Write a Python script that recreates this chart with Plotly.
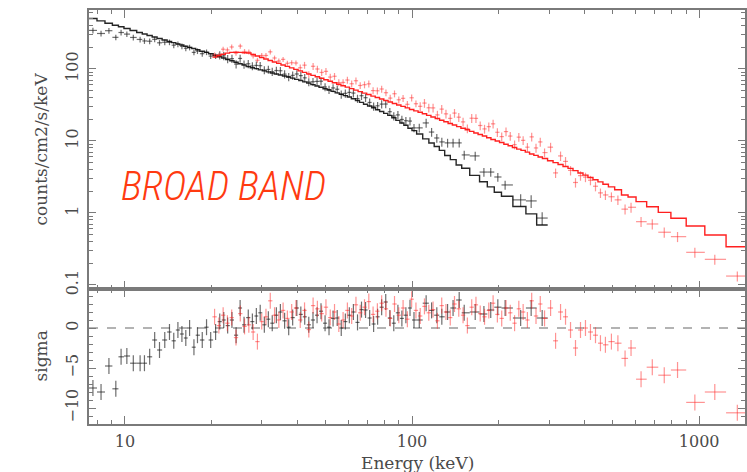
import numpy as np
import plotly.graph_objects as go

# ---------------- data ----------------
BLACK_E = [7.74, 8.26, 8.8, 9.3, 9.7, 10.16, 10.7, 11.3, 11.7, 12.2, 12.7, 13.2, 13.77, 14.3, 14.8,
           15.3, 15.8, 16.3, 16.8, 17.4, 17.9, 18.6, 19.25, 19.9, 20.7,
           21.4, 22.1, 22.8, 23.6, 24.4, 25.2, 26.0, 26.9, 27.8, 28.7, 29.6, 30.6, 31.6, 32.6, 33.7,
           34.8, 36.0, 37.2, 38.4, 39.7, 41.0, 42.3, 43.7, 45.2, 46.7, 48.2, 49.8, 51.4, 53.1, 54.9,
           56.7, 58.6, 60.5, 62.5, 64.6, 66.7, 68.9, 71.2, 73.5, 75.9, 78.4, 81.0, 83.7, 86.4, 89.3,
           92.2, 95.2, 98.4, 101.6,
           106, 112, 117, 122, 127, 133, 139, 146, 152, 166, 178, 188, 199, 211, 239, 260, 284]
BLACK_DATA = [343, 311, 340, 275, 321, 305, 274, 257, 245, 243, 258, 231, 235, 235, 214, 220, 207, 194,
              199, 170, 177, 163, 171, 151, 151,
              156, 152, 138, 139, 117, 140, 116, 118, 110, 112, 111, 96.7, 98.4, 91.7, 95.2, 94.5, 84.8,
              77.7, 81.5, 85.2, 80.9, 75.3, 65.9, 66.5, 67.2, 67.6, 56.2, 51.6, 54.5, 52.3, 44.5, 45.9,
              47.3, 46.3, 38.8, 42.5, 39.9, 34.3, 30.3, 30.8, 32.5, 32.6, 25.5, 22.2, 23.0, 19.9, 19.1,
              18.9, 15.2,
              15.2, 17.8, 13.3, 11.0, 9.7, 9.4, 9.4, 9.4, 6.4, 6.2, 3.7, 3.7, 3.16, 2.45, 1.52, 1.47, 0.85]
BLACK_MODEL = [502, 466, 432, 404, 385, 364, 343, 321, 306, 292, 278, 265, 253, 241, 232, 223, 215, 207,
               199, 192, 185, 176, 170, 163, 155,
               148, 142, 135, 130, 124, 118, 113, 108, 104, 101, 97.2, 94.1, 91.2, 88, 85.2, 82.3, 79.7,
               77.2, 74.5, 71.7, 69.2, 66.2, 63.5, 60.7, 58.0, 55.7, 53.2, 51.1, 48.8, 46.6, 44.5, 42.7,
               40.8, 38.5, 36.4, 34.4, 32.4, 30.6, 28.9, 27.1, 25.6, 24.2, 22.7, 21.0, 19.3, 17.8, 16.5,
               15.0, 13.9,
               12.5, 10.7, 9.38, 8.36, 7.4, 6.29, 5.5, 4.64, 4.18, 3.33, 2.71, 2.3, 1.94, 1.71, 1.23, 0.97, 0.68]
BLACK_SIGMA = [-7.5, -8, -4.75, -7.6, -3.6, -3.5, -4.4, -4.4, -4.4, -3.6, -1.5, -2.75, -1.5, -0.5, -1.6,
               -0.25, -0.75, -1.25, 0, -2.4, -0.9, -1.5, 0.1, -1.5, -0.5,
               0.8, 1.0, 0.3, 1.0, -0.9, 2.5, 0.4, 1.3, 0.8, 1.5, 1.9, 0.4, 1.1, 0.6, 1.6, 2.0, 0.9, 0.1,
               1.3, 2.5, 1.7, 1.4, 0.4, 1.0, 1.6, 2.1, 0.6, 0.1, 1.2, 1.25, 0.0, 0.8, 1.6, 2.0, 0.7, 2.3,
               2.25, 1.25, 0.5, 1.4, 2.6, 3.25, 1.25, 0.6, 1.9, 1.2, 1.6, 2.5, 1.0,
               1.0, 3.1, 2.2, 1.6, 1.4, 2.0, 2.5, 3.5, 1.9, 2.0, 1.75, 2.25, 2.6, 2.5, 1.25, 2.5, 1.25]
BLACK_FRAC_ERR = [0.09] * 25 + [0.13] * 49 + [0.14] * 14 + [0.2] * 3

RED_E = [20.53, 21.25, 21.99, 22.76, 23.55, 24.38, 25.23, 26.11, 27.02, 27.97, 28.95, 29.96, 31.0, 32.09,
         33.21, 34.37, 35.57, 36.81, 38.10, 39.43, 40.81, 42.24, 43.71, 45.24, 46.82, 48.46, 50.15, 51.91,
         53.72, 55.60, 57.54, 59.56, 61.64, 63.79, 66.02, 68.33, 70.72, 73.19, 75.75, 78.40, 81.14, 83.97,
         86.91, 89.95, 93.09, 96.35, 99.72, 103.2, 106.8, 110.5, 114.4, 118.4, 122.6, 126.9, 131.3, 135.9,
         140.6, 145.5, 150.6, 155.9, 161.4, 167.0, 172.8, 178.9, 185.1, 191.6, 198.3, 205.3, 212.5, 219.9,
         227.6, 235.5, 243.8, 252.3, 261.1, 270.3, 279.7, 289.5,
         303.8, 316.2, 329.1, 342.5, 356.5, 371.0, 386.2, 401.9, 418.3, 435.5, 453.2, 471.6, 494.9, 521.2,
         552.1, 579.2, 627.6, 686.8, 755.9, 840.9, 966.2, 1133.7, 1358.3]
RED_DATA = [157, 156, 188, 184, 202, 166, 208, 175, 172, 152, 132, 154, 154, 173, 142, 129, 136, 120, 122,
            121, 104, 113, 84, 109, 99.9, 89.5, 92.7, 77.2, 79.2, 64.7, 65.0, 70.2, 62.3, 68.6, 59.0, 60.5,
            62.1, 50.1, 49.8, 52.7, 46.8, 39.4, 45.3, 37.3, 39.1, 32.3, 39.8, 32.9, 30.3, 33.6, 28.9, 28.8,
            23.0, 27.7, 23.8, 20.6, 24.4, 21.4, 18.4, 14.9, 20.7, 20.6, 16.4, 14.7, 15.8, 17.3, 13.2, 11.5,
            13.5, 11.7, 8.9, 11.3, 10.2, 8.2, 11.4, 8.0, 9.7, 6.9,
            8.2, 3.6, 6.2, 5.2, 3.9, 2.65, 3.3, 3.15, 2.85, 2.35, 1.9, 1.78, 1.68, 1.52,
            1.13, 1.2, 0.757, 0.703, 0.54, 0.469, 0.284, 0.227, 0.133]
RED_MODEL = [146, 153, 160, 166, 170, 171, 170, 168,
             166.3, 158.6, 151.3, 144.3, 137.6, 131.2, 125.2, 119.4, 113.8, 108.5, 103.5, 98.7, 94.1, 89.8,
             85.6, 81.6, 77.9, 74.3, 70.8, 67.5, 64.4, 61.4, 58.6, 55.9, 53.3, 50.8, 48.4, 46.2, 44.1, 42.0,
             40.1, 38.2, 36.5, 34.8, 33.2, 31.6, 30.2, 28.8, 27.4, 26.2, 25.1, 23.9, 22.7, 21.5, 20.5, 19.4,
             18.5, 17.5, 16.7, 15.8, 15.0, 14.3, 13.6, 12.9, 12.3, 11.7, 11.1, 10.5, 10.0, 9.5, 9.0, 8.6,
             8.1, 7.7, 7.4, 7.0, 6.6, 6.3, 6.0, 5.7,
             5.31, 5.0, 4.72, 4.43, 4.16, 3.87, 3.59, 3.35, 3.11, 2.90, 2.70, 2.51, 2.30, 2.10,
             1.78, 1.67, 1.435, 1.22, 1.02, 0.845, 0.66, 0.495, 0.34]
RED_SIGMA = [1.4, 0.3, 1.6, 0.6, 1.3, -1.2, 1.8, 0.2, 0.4, -0.5, -1.7, 0.8, 1.4, 3.4, 1.6, 1.0, 2.2, 1.2,
             2.0, 2.5, 1.0, 2.2, -0.2, 2.8, 2.4, 1.8, 2.6, 1.3, 2.0, 0.5, 1.0, 2.2, 1.5, 2.9, 1.9, 2.6, 3.3,
             1.7, 2.1, 3.1, 2.4, 1.2, 3.0, 1.6, 2.5, 1.1, 3.6, 2.2, 1.5, 2.7, 1.9, 2.3, 0.9, 2.8, 2.0, 1.3,
             3.0, 2.4, 1.6, 0.3, 2.6, 2.9, 1.8, 1.4, 2.2, 3.1, 1.7, 1.2, 2.5, 1.9, 0.6, 2.4, 2.0, 1.0, 3.4,
             1.5, 3.0, 1.2,
             2.5, -1.6, 2.0, 1.4, -0.25, -2.5, -0.25, 0.0, -0.5, -0.9, -1.9, -2.1, -1.7, -1.9,
             -3.8, -2.5, -6.4, -4.9, -5.9, -5.25, -9.3, -8.0, -10.6]
RED_FRAC_ERR = [0.08] * 20 + [0.11] * 28 + [0.14] * 30 + [0.15] * 14 + [0.16] * 9

X_TICKS = [10, 100, 1000]
X_MINOR = [8, 9, 20, 30, 40, 50, 60, 70, 80, 90, 200, 300, 400, 500, 600, 700, 800, 900]
Y_TICKS = [0.1, 1, 10, 100]
Y_TICK_TEXT = ["0.1", "1", "10", "100"]
Y_MINOR = [0.2, 0.3, 0.4, 0.5, 0.6, 0.7, 0.8, 0.9, 2, 3, 4, 5, 6, 7, 8, 9,
           20, 30, 40, 50, 60, 70, 80, 90, 200, 300, 400, 500, 600]
SIG_TICKS = [-10, -5, 0]
SIG_TICK_TEXT = ["\u221210", "\u22125", "0"]

# ---------------- styling ----------------
AX = "#7a7a7a"
TXT = "#4a4a4a"
TICKFONT = dict(family="DejaVu Serif", size=16, color=TXT)
BLACK_PTS = "rgba(30,30,30,0.65)"
RED_PTS = "rgba(255,40,40,0.5)"
BLACK_LINE = "rgba(0,0,0,0.85)"
RED_LINE = "rgba(255,20,20,0.95)"


def bin_edges(e):
    e = np.asarray(e, dtype=float)
    mid = np.sqrt(e[:-1] * e[1:])
    lo = np.concatenate([[e[0] ** 2 / mid[0]], mid])
    hi = np.concatenate([mid, [e[-1] ** 2 / mid[-1]]])
    return lo, hi


fig = go.Figure()
HIDDEN = dict(size=1, opacity=0)


def add_spectrum(E, data, model, sigma, frac, pcol, lcol):
    E = np.asarray(E, float)
    data = np.asarray(data, float)
    lo, hi = bin_edges(E)
    ex = dict(type="data", symmetric=False, array=hi - E, arrayminus=E - lo,
              width=0, thickness=1.2, color=pcol)
    fig.add_trace(go.Scatter(
        x=E, y=data, mode="markers", marker=HIDDEN,
        error_x=ex,
        error_y=dict(type="data", array=data * np.asarray(frac), width=0, thickness=1.2, color=pcol),
        xaxis="x2", yaxis="y", showlegend=False, hoverinfo="skip"))
    fig.add_trace(go.Scatter(
        x=np.concatenate([lo, [hi[-1]]]), y=np.concatenate([model, [model[-1]]]),
        mode="lines", line=dict(color=lcol, width=1.4, shape="hv"),
        xaxis="x2", yaxis="y", showlegend=False, hoverinfo="skip"))
    fig.add_trace(go.Scatter(
        x=E, y=sigma, mode="markers", marker=HIDDEN,
        error_x=ex,
        error_y=dict(type="constant", value=1, width=0, thickness=1.2, color=pcol),
        xaxis="x", yaxis="y2", showlegend=False, hoverinfo="skip"))


add_spectrum(BLACK_E, BLACK_DATA, BLACK_MODEL, BLACK_SIGMA, BLACK_FRAC_ERR, BLACK_PTS, BLACK_LINE)
add_spectrum(RED_E, RED_DATA, RED_MODEL, RED_SIGMA, RED_FRAC_ERR, RED_PTS, RED_LINE)

common_x = dict(type="log", range=[np.log10(7.5), 3.1597], showline=True, mirror="allticks",
                linecolor=AX, linewidth=1.5, ticks="inside", ticklen=8, tickwidth=1.3, tickcolor=AX,
                tickvals=X_TICKS, ticktext=[str(t) for t in X_TICKS], tickfont=TICKFONT,
                minor=dict(ticks="inside", ticklen=4, tickwidth=1.2, tickcolor=AX, tickvals=X_MINOR),
                showgrid=False, zeroline=False)

TOP_FRAC = 279 / 414
fig.update_layout(
    width=747, height=472,
    margin=dict(l=89, r=0, t=10, b=48),
    paper_bgcolor="white", plot_bgcolor="white",
    xaxis=dict(common_x, domain=[0, 1], anchor="y2", ticklabelstandoff=2),
    xaxis2=dict(common_x, domain=[0, 1], anchor="y", matches="x", showticklabels=False),
    yaxis=dict(type="log", domain=[1 - TOP_FRAC, 1], anchor="x2", range=[-1.056, 2.819],
               showline=True, mirror="allticks", linecolor=AX, linewidth=1.5,
               ticks="inside", ticklen=7, tickwidth=1.3, tickcolor=AX,
               tickvals=Y_TICKS, ticktext=Y_TICK_TEXT, tickangle=-90, tickfont=TICKFONT,
               ticklabelstandoff=3,
               minor=dict(ticks="inside", ticklen=4, tickwidth=1.2, tickcolor=AX, tickvals=Y_MINOR),
               showgrid=False, zeroline=False),
    yaxis2=dict(domain=[0, 1 - TOP_FRAC], anchor="x", range=[-12, 4.875],
                showline=True, mirror="allticks", linecolor=AX, linewidth=1.5,
                ticks="inside", ticklen=7, tickwidth=1.3, tickcolor=AX,
                tickvals=SIG_TICKS, ticktext=SIG_TICK_TEXT, tickangle=-90, tickfont=TICKFONT,
                ticklabelstandoff=3,
                minor=dict(ticks="inside", ticklen=4, tickwidth=1.2, tickcolor=AX, dtick=1, tick0=0),
                showgrid=False, zeroline=False),
    shapes=[dict(type="line", xref="x domain", yref="y2", x0=0, x1=1, y0=0, y1=0,
                 line=dict(color="#9a9a9a", width=1.5, dash="dash"), layer="below")],
    annotations=[
        dict(text="counts/cm2/s/keV", xref="paper", yref="y domain", x=0, y=0.5, xshift=-49,
             textangle=-90, showarrow=False, xanchor="center", yanchor="middle",
             font=dict(family="DejaVu Serif", size=17, color=TXT)),
        dict(text="sigma", xref="paper", yref="y2 domain", x=0, y=0.5, xshift=-49,
             textangle=-90, showarrow=False, xanchor="center", yanchor="middle",
             font=dict(family="DejaVu Serif", size=17, color=TXT)),
        dict(text="Energy (keV)", xref="paper", yref="paper", x=0.5, y=0, yshift=-39,
             showarrow=False, xanchor="center", yanchor="middle",
             font=dict(family="DejaVu Serif", size=17, color=TXT)),
        dict(text="BROAD BAND", xref="paper", yref="paper", x=(224 - 89) / 658, y=(424 - 186) / 414,
             showarrow=False, xanchor="center", yanchor="middle",
             font=dict(family="Roboto Condensed, Liberation Sans Narrow, DejaVu Sans Condensed, Roboto",
                       size=40, style="italic", weight=300, color="#ff3a10")),
    ],
)

fig.write_html("out.html", config={"displayModeBar": False},
               post_script="document.body.style.margin='0px';")
